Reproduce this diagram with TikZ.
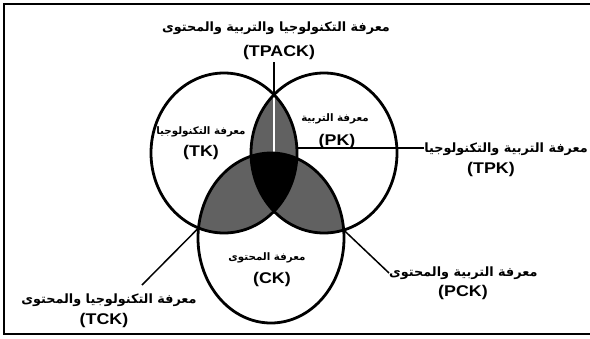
\documentclass[tikz,border=0pt]{standalone}
\usepackage{fontspec}
\setmainfont{Liberation Sans}
\newfontfamily\latinwide[FakeStretch=1.15]{Liberation Sans}
\newfontfamily\arabicfont[Script=Arabic]{DejaVu Sans}
\TeXXeTstate=1
\begin{document}
\begin{tikzpicture}[x=1pt,y=-1pt,
  ring/.style={line width=2.8pt},
  pointer/.style={line width=1.5pt},
  arbig/.style={font=\arabicfont\bfseries\fontsize{12.8}{14}\selectfont, inner sep=0pt},
  arsmall/.style={font=\arabicfont\bfseries\fontsize{10.3}{12}\selectfont, inner sep=0pt},
  la/.style={font=\latinwide\bfseries\fontsize{15.5}{17}\selectfont, inner sep=0pt},
  lens/.style={fill=black!62},
  core/.style={fill=black}]
\useasboundingbox (0,0) rectangle (590,338);
\fill[white] (0,0) rectangle (590,338);
\draw[line width=1.8pt] (591,4) -- (4,4) -- (4,334) -- (591,334);

\coordinate (Lc) at (224,153);
\coordinate (Rc) at (324,153);
\coordinate (Bc) at (271,238);

\begin{scope}
  \clip (Lc) ellipse[x radius=73,y radius=80];
  \fill[lens] (Rc) ellipse[x radius=73,y radius=80];
  \fill[lens] (Bc) ellipse[x radius=73,y radius=85];
\end{scope}
\begin{scope}
  \clip (Rc) ellipse[x radius=73,y radius=80];
  \fill[lens] (Bc) ellipse[x radius=73,y radius=85];
\end{scope}
\begin{scope}
  \clip (Lc) ellipse[x radius=73,y radius=80];
  \clip (Rc) ellipse[x radius=73,y radius=80];
  \fill[core] (Bc) ellipse[x radius=73,y radius=85];
\end{scope}

\coordinate (tpackTop) at (274,62);
\coordinate (tpIntTop) at (274,96);
\coordinate (tpackEnd) at (274,153);
\draw[pointer,white] (tpIntTop) -- (tpackEnd);

\draw[ring] (Lc) ellipse[x radius=73,y radius=80];
\draw[ring] (Rc) ellipse[x radius=73,y radius=80];
\draw[ring] (Bc) ellipse[x radius=73,y radius=85];

\node[arbig] (tpackA) at (276,28) {\beginR معرفة التكنولوجيا والتربية والمحتوى\endR};
\node[la] (tpack) at (279,52) {(TPACK)};
\node[arsmall] (tkA) at (201,132) {\beginR معرفة التكنولوجيا\endR};
\node[la] (tk) at (201,152) {(TK)};
\node[arsmall] (pkA) at (335,119) {\beginR معرفة التربية\endR};
\node[la] (pk) at (337,141) {(PK)};
\node[arbig,anchor=east] (tpkA) at (588,149) {\beginR معرفة التربية والتكنولوجيا\endR};
\node[la] (tpk) at (491,169) {(TPK)};
\node[arsmall] (ckA) at (267,258) {\beginR معرفة المحتوى\endR};
\node[la] (ck) at (272,279) {(CK)};
\node[arbig,anchor=west] (pckA) at (389,273) {\beginR معرفة التربية والمحتوى\endR};
\node[la] (pck) at (463,292) {(PCK)};
\node[arbig] (tckA) at (109,300) {\beginR معرفة التكنولوجيا والمحتوى\endR};
\node[la] (tck) at (104,320) {(TCK)};

\coordinate (tpkStart) at (297,148);
\coordinate (tcInt) at (198.5,228);
\coordinate (tckEnd) at (142,285);
\coordinate (pcInt) at (343.7,230);

\draw[pointer] (tpackTop) -- (tpIntTop);
\draw[pointer] (tpkStart) -- (tpkStart -| tpkA.west);
\draw[pointer] (tcInt) -- (tckEnd);
\draw[pointer] (pcInt) -- (pckA.west);
\end{tikzpicture}
\end{document}
